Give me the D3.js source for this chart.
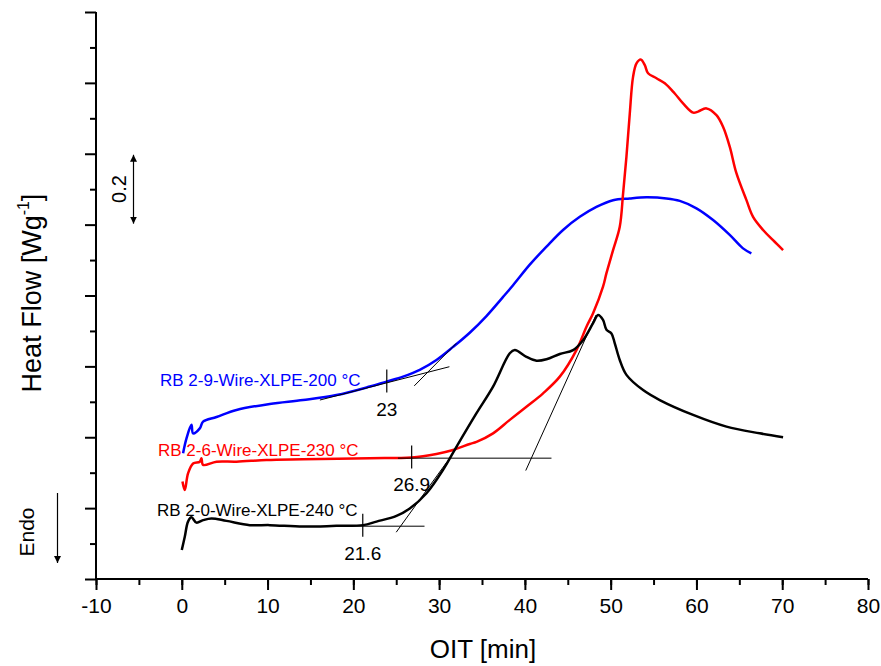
<!DOCTYPE html>
<html>
<head>
<meta charset="utf-8">
<script src="https://cdn.jsdelivr.net/npm/d3@7"></script>
<style>
  body { margin: 0; background: #fff; }
  svg { font-family: "Liberation Sans", Arial, sans-serif; }
</style>
</head>
<body>
<div id="chart"></div>
<script>
// OIT curves (time in min, heat flow in W/g, offset)
var timeBlue = [0.15, 0.55, 1.13, 1.32, 2.1, 2.48, 4.05, 6.38, 10.26, 14.14, 18.03, 21.92, 23.86, 25.8, 27.74, 29.69, 31.63, 33.57, 35.52, 37.46, 38.62, 40.57, 42.52, 44.45, 46.4, 48.34, 50.28, 52.23, 54.17, 56.5, 58.06, 60.0, 61.94, 63.88, 65.43, 66.4];
var heatBlue = [0.355, 0.397, 0.435, 0.411, 0.425, 0.444, 0.457, 0.477, 0.494, 0.505, 0.519, 0.543, 0.557, 0.571, 0.590, 0.618, 0.655, 0.695, 0.742, 0.796, 0.829, 0.887, 0.938, 0.985, 1.022, 1.050, 1.069, 1.074, 1.077, 1.074, 1.067, 1.046, 1.013, 0.971, 0.933, 0.919];

var timeRed = [0.08, 0.35, 0.73, 1.32, 2.1, 2.3, 2.48, 4.05, 6.38, 9.87, 14.14, 21.92, 26.78, 29.69, 31.63, 33.57, 34.36, 36.29, 38.24, 40.18, 42.12, 44.07, 46.01, 47.18, 47.95, 49.11, 49.51, 50.28, 51.06, 51.45, 51.84, 52.23, 52.61, 53.01, 53.51, 53.98, 54.36, 55.34, 56.31, 57.47, 58.44, 59.61, 60.19, 61.17, 62.33, 63.1, 63.88, 64.66, 65.83, 66.6, 67.77, 68.93, 70.1];
var heatRed = [0.275, 0.251, 0.298, 0.326, 0.331, 0.341, 0.322, 0.331, 0.331, 0.336, 0.338, 0.341, 0.343, 0.353, 0.364, 0.381, 0.387, 0.411, 0.449, 0.486, 0.524, 0.571, 0.646, 0.712, 0.750, 0.825, 0.863, 0.928, 0.994, 1.088, 1.192, 1.314, 1.417, 1.455, 1.466, 1.450, 1.427, 1.413, 1.399, 1.370, 1.342, 1.316, 1.319, 1.328, 1.309, 1.276, 1.220, 1.145, 1.069, 1.022, 0.985, 0.956, 0.928];

var timeBlack = [0, 0.35, 0.73, 1.13, 1.71, 2.48, 3.46, 5.21, 7.93, 10.26, 14.14, 18.03, 21.14, 22.7, 25.03, 26.58, 28.53, 30.46, 32.02, 34.36, 36.29, 38.24, 38.82, 40.18, 41.35, 42.52, 44.07, 45.62, 46.78, 47.95, 48.53, 49.11, 49.51, 50.09, 50.48, 51.06, 51.84, 53.78, 55.72, 59.61, 63.5, 67.38, 70.1];
var heatBlack = [0.082, 0.119, 0.162, 0.174, 0.159, 0.166, 0.171, 0.164, 0.152, 0.152, 0.148, 0.150, 0.152, 0.162, 0.178, 0.199, 0.242, 0.308, 0.373, 0.468, 0.543, 0.637, 0.646, 0.627, 0.616, 0.620, 0.635, 0.646, 0.674, 0.722, 0.745, 0.731, 0.703, 0.693, 0.665, 0.618, 0.576, 0.533, 0.505, 0.463, 0.430, 0.411, 0.400];

var seriesNames = ["RB 2-9-Wire-XLPE-200 °C", "RB 2-6-Wire-XLPE-230 °C", "RB 2-0-Wire-XLPE-240 °C"];
var seriesColors = ["#0000ff", "#ff0000", "#000000"];

// onset construction: tangent lines [x1, y1, x2, y2]
var tangentLines = [
  [16.1, 0.505, 31.2, 0.599], [27.1, 0.545, 32.0, 0.665],
  [25.2, 0.341, 43.1, 0.341], [40.1, 0.306, 48.3, 0.745],
  [19.5, 0.149, 28.3, 0.149], [25.0, 0.132, 30.9, 0.330]
];
var onsetLabels = ["23", "26.9", "21.6"];
var onsetX = [23.9, 26.8, 21.1];
var onsetY = [0.557, 0.343, 0.150];

var xTicks = [-10, 0, 10, 20, 30, 40, 50, 60, 70, 80];

var W = 881, H = 666;
var svg = d3.select("#chart").append("svg")
  .attr("width", W).attr("height", H);

var x = d3.scaleLinear().domain([-10, 80]).range([96, 868]);
var y = d3.scaleLinear().domain([0, 1.6]).range([579, 12]);

// axes
svg.append("g")
  .attr("transform", "translate(0,579)")
  .call(d3.axisBottom(x).tickValues(d3.range(-10, 81, 5)).tickSize(6).tickFormat(""))
  .call(g => g.selectAll("line").attr("stroke-width", 2))
  .call(g => g.select(".domain").remove());
svg.append("g")
  .attr("transform", "translate(0,579)")
  .call(d3.axisBottom(x).tickValues(xTicks).tickSize(11).tickPadding(8).tickFormat(d => String(d)))
  .call(g => g.selectAll("line").attr("stroke-width", 2))
  .call(g => g.select(".domain").attr("stroke-width", 2).attr("d", "M96,0H868"))
  .call(g => g.selectAll("text").attr("font-size", 21).attr("font-family", "Liberation Sans, Arial"));

svg.append("g")
  .attr("transform", "translate(96,0)")
  .call(d3.axisLeft(y).tickValues(d3.range(0.1, 1.6, 0.2)).tickSize(6).tickFormat(""))
  .call(g => g.selectAll("line").attr("stroke-width", 2))
  .call(g => g.select(".domain").remove());
svg.append("g")
  .attr("transform", "translate(96,0)")
  .call(d3.axisLeft(y).tickValues(d3.range(0, 1.61, 0.2)).tickSize(11).tickFormat(""))
  .call(g => g.selectAll("line").attr("stroke-width", 2))
  .call(g => g.select(".domain").attr("stroke-width", 2).attr("d", "M0,579V12"));

// axis titles
svg.append("text")
  .attr("x", 483).attr("y", 658)
  .attr("text-anchor", "middle").attr("font-size", 26)
  .text("OIT [min]");

var yl = svg.append("text")
  .attr("transform", "translate(41,293) rotate(-90)")
  .attr("text-anchor", "middle").attr("font-size", 27);
yl.append("tspan").text("Heat Flow [Wg");
yl.append("tspan").attr("font-size", 16).attr("dy", -12).text("-1");
yl.append("tspan").attr("dy", 12).text("]");

// curves
var line = d3.line()
  .x(d => x(d[0])).y(d => y(d[1]))
  .curve(d3.curveCatmullRom.alpha(0.5));

var curves = [
  d3.zip(timeBlue, heatBlue),
  d3.zip(timeRed, heatRed),
  d3.zip(timeBlack, heatBlack)
];

svg.selectAll("path.curve")
  .data(curves)
  .enter().append("path")
  .attr("class", "curve")
  .attr("d", line)
  .attr("fill", "none")
  .attr("stroke", (d, i) => seriesColors[i])
  .attr("stroke-width", 2.5)
  .attr("stroke-linejoin", "round");

// tangents
svg.selectAll("line.tan")
  .data(tangentLines)
  .enter().append("line")
  .attr("x1", d => x(d[0])).attr("y1", d => y(d[1]))
  .attr("x2", d => x(d[2])).attr("y2", d => y(d[3]))
  .attr("stroke", "#000").attr("stroke-width", 1);

// onset markers
svg.selectAll("line.mark")
  .data(onsetX)
  .enter().append("line")
  .attr("x1", d => x(d)).attr("x2", d => x(d))
  .attr("y1", (d, i) => y(onsetY[i]) - 12)
  .attr("y2", (d, i) => y(onsetY[i]) + 11)
  .attr("stroke", "#000").attr("stroke-width", 1.2);

svg.selectAll("text.onset")
  .data(onsetLabels)
  .enter().append("text")
  .attr("x", (d, i) => x(onsetX[i]))
  .attr("y", (d, i) => y(onsetY[i]) + 34)
  .attr("text-anchor", "middle").attr("font-size", 19)
  .text(d => d);

// series labels
var labelPos = [[160, 386], [158, 456], [157, 516]];
svg.selectAll("text.series")
  .data(seriesNames)
  .enter().append("text")
  .attr("x", (d, i) => labelPos[i][0])
  .attr("y", (d, i) => labelPos[i][1])
  .attr("font-size", 17)
  .attr("fill", (d, i) => seriesColors[i])
  .text(d => d);

// scale bar 0.2 and Endo arrow
var defs = svg.append("defs");
defs.append("marker").attr("id", "ah")
  .attr("viewBox", "0 0 10 10").attr("refX", 10).attr("refY", 5)
  .attr("markerWidth", 7).attr("markerHeight", 12)
  .attr("markerUnits", "userSpaceOnUse")
  .attr("orient", "auto-start-reverse")
  .append("path").attr("d", "M0,0L10,5L0,10Z").attr("fill", "#000");

svg.append("line")
  .attr("x1", 133.5).attr("x2", 133.5)
  .attr("y1", y(1.2) + 1).attr("y2", y(1.0) - 1)
  .attr("stroke", "#000").attr("stroke-width", 1.2)
  .attr("marker-start", "url(#ah)").attr("marker-end", "url(#ah)");
svg.append("text")
  .attr("transform", "translate(126,189) rotate(-90)")
  .attr("text-anchor", "middle").attr("font-size", 20)
  .text("0.2");

svg.append("line")
  .attr("x1", 57.5).attr("x2", 57.5)
  .attr("y1", 493).attr("y2", 563)
  .attr("stroke", "#000").attr("stroke-width", 1.2)
  .attr("marker-end", "url(#ah)");
svg.append("text")
  .attr("transform", "translate(34,532) rotate(-90)")
  .attr("text-anchor", "middle").attr("font-size", 21)
  .text("Endo");
</script>
</body>
</html>
